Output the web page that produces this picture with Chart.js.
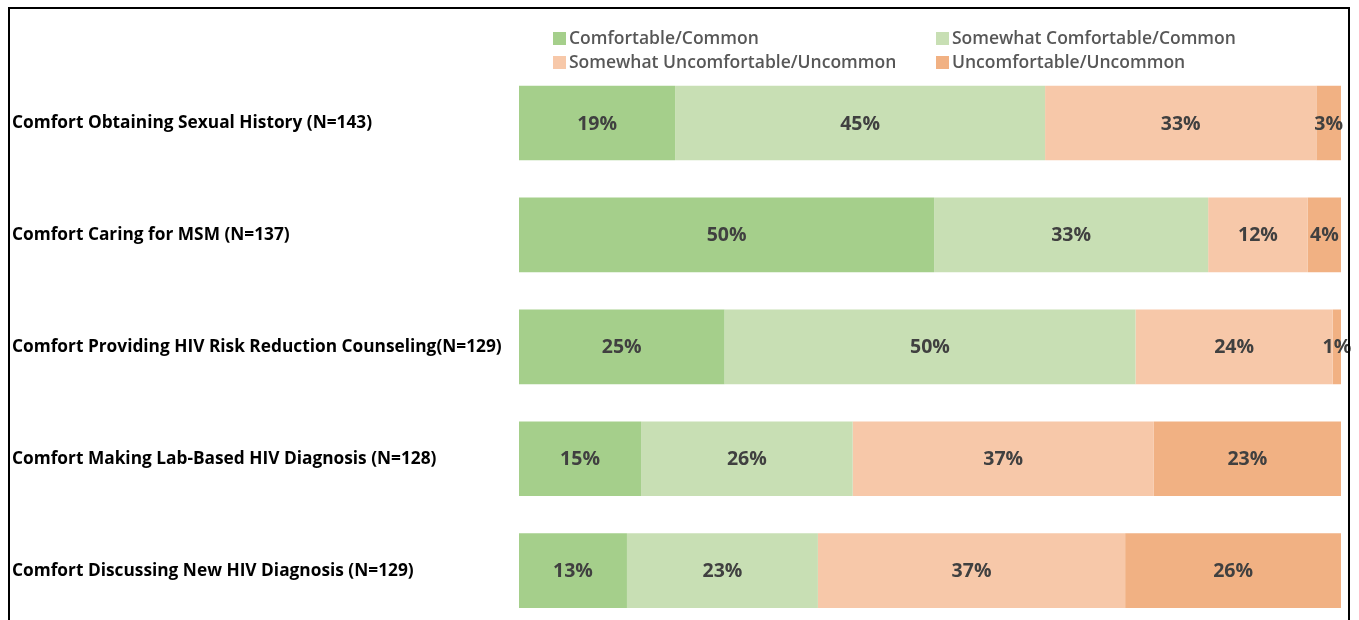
<!DOCTYPE html>
<html>
<head>
<meta charset="utf-8">
<script src="https://cdn.jsdelivr.net/npm/chart.js@4"></script>
<style>
  html, body { margin: 0; padding: 0; background: #fff; overflow: hidden; }
  #wrap { position: relative; width: 1359px; height: 620px; }
  #frame { position: absolute; left: 8px; top: 7px; width: 1342px; height: 640px; border: 2px solid #000; box-sizing: border-box; pointer-events: none; }
  #chart { position: absolute; left: 0; top: 0; }
  .legend { position: absolute; font-family: "Open Sans", sans-serif; font-weight: 600; font-size: 17.5px; line-height: 24px; color: #575757; white-space: nowrap; }
  .legend span.box { display: inline-block; width: 13px; height: 13px; margin-right: 3px; vertical-align: -1px; }
</style>
</head>
<body>
<div id="wrap">
  <canvas id="chart" width="1359" height="640"></canvas>
  <div id="legend"></div>
  <div id="frame"></div>
</div>
<script>
// Itens avaliados (eixo vertical)
const itens = [
    'Comfort Obtaining Sexual History (N=143)',
    'Comfort Caring for MSM (N=137)',
    'Comfort Providing HIV Risk Reduction Counseling(N=129)',
    'Comfort Making Lab-Based HIV Diagnosis (N=128)',
    'Comfort Discussing New HIV Diagnosis (N=129)'
];

// Respostas em % por categoria
const confortavel = [19, 50, 25, 15, 13];
const algoConfortavel = [45, 33, 50, 26, 23];
const algoDesconfortavel = [33, 12, 24, 37, 37];
const desconfortavel = [3, 4, 1, 23, 26];

const nomesSeries = [
    'Comfortable/Common',
    'Somewhat Comfortable/Common',
    'Somewhat Uncomfortable/Uncommon',
    'Uncomfortable/Uncommon'
];
const cores = ['#a5cf8b', '#c8dfb4', '#f7c8a9', '#f1b183'];

const series = [confortavel, algoConfortavel, algoDesconfortavel, desconfortavel];

// Barras 100% empilhadas: cada linha é escalada para somar 100
const totais = itens.map((_, i) => series.reduce((s, arr) => s + arr[i], 0));
const proporcao = arr => arr.map((v, i) => v / totais[i] * 100);

// Legenda em HTML (duas colunas)
const posLegenda = [[553, 25], [936, 25], [553, 49], [936, 49]];
const legendEl = document.getElementById('legend');
nomesSeries.forEach((nome, i) => {
    const div = document.createElement('div');
    div.className = 'legend';
    div.style.left = posLegenda[i][0] + 'px';
    div.style.top = posLegenda[i][1] + 'px';
    div.innerHTML = `<span class="box" style="background:${cores[i]}"></span>${nome}`;
    legendEl.appendChild(div);
});

// Rótulos de valor dentro das barras
const rotulosPlugin = {
    id: 'rotulos',
    afterDatasetsDraw(chart) {
        const ctx = chart.ctx;
        ctx.save();
        ctx.font = 'bold 19.5px "Open Sans", sans-serif';
        ctx.fillStyle = '#404040';
        ctx.textAlign = 'center';
        ctx.textBaseline = 'middle';
        chart.data.datasets.forEach((ds, di) => {
            const meta = chart.getDatasetMeta(di);
            meta.data.forEach((bar, i) => {
                const x = (bar.x + bar.base) / 2;
                ctx.fillText(series[di][i] + '%', x, bar.y + 1);
            });
        });
        ctx.restore();
    }
};

new Chart(document.getElementById('chart'), {
    type: 'bar',
    data: {
        labels: itens,
        datasets: series.map((arr, i) => ({
            label: nomesSeries[i],
            data: proporcao(arr),
            backgroundColor: cores[i],
            borderWidth: 0,
            categoryPercentage: 0.667,
            barPercentage: 1
        }))
    },
    options: {
        indexAxis: 'y',
        responsive: false,
        animation: false,
        layout: { padding: { left: 12, top: 67, right: 18, bottom: 11 } },
        plugins: { legend: { display: false }, tooltip: { enabled: false } },
        scales: {
            x: { stacked: true, min: 0, max: 100, display: false },
            y: {
                stacked: true,
                grid: { display: false },
                border: { display: false },
                ticks: {
                    crossAlign: 'far',
                    color: '#000',
                    font: { family: '"Open Sans", sans-serif', weight: 'bold', size: 17.3 }
                },
                afterFit(scale) { scale.width = 507; }
            }
        }
    },
    plugins: [rotulosPlugin]
});
</script>
</body>
</html>
